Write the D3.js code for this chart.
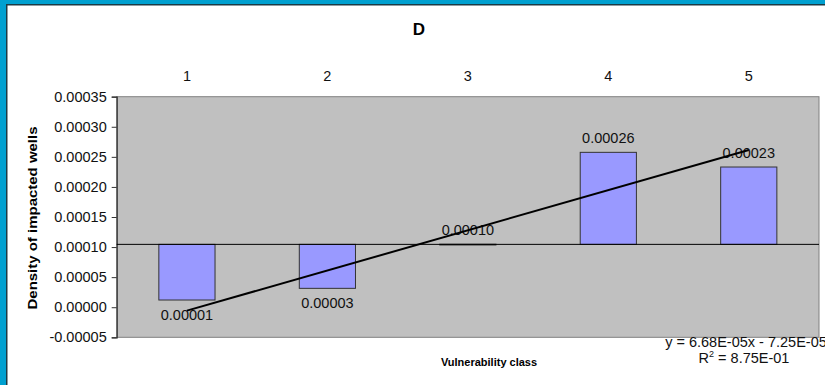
<!DOCTYPE html>
<html><head><meta charset="utf-8">
<script src="https://cdn.jsdelivr.net/npm/d3@7"></script>
<style>html,body{margin:0;padding:0;background:#fff;}svg{display:block;font-family:"Liberation Sans",Arial,sans-serif;}</style>
</head><body>
<svg id="c" width="825" height="385"></svg>
<script>
const categories = ["1", "2", "3", "4", "5"];
const values = [0.0000120, 0.0000314, 0.0001048, 0.0002575, 0.0002331];
const labels = ["0.00001", "0.00003", "0.00010", "0.00026", "0.00023"];
const yTicks = [-0.00005, 0, 0.00005, 0.00010, 0.00015, 0.00020, 0.00025, 0.00030, 0.00035];
const crossing = 0.0001045;
const trendSlope = 6.68e-5;
const trendIntercept = -7.25e-5;
const title = "D";
const xTitle = "Vulnerability class";
const yTitle = "Density of impacted wells";
const eqLine1 = "y = 6.68E-05x - 7.25E-05";

const svg = d3.select("#c");
// frame
svg.append("rect").attr("x",0).attr("y",0).attr("width",825).attr("height",385).attr("fill","#00A0D0");
svg.append("rect").attr("x",6).attr("y",4).attr("width",825).attr("height",385).attr("fill","#1c3a44");
svg.append("rect").attr("x",7.5).attr("y",5.5).attr("width",825).attr("height",385).attr("fill","#ffffff");

const L = 116.7, R = 819, T = 96.7, B = 337.3;
const x = d3.scaleBand().domain(categories).range([L, R]).paddingInner(0.6).paddingOuter(0.3);
const y = d3.scaleLinear().domain([-0.00005, 0.00035]).range([B, T]);

svg.append("rect").attr("x",L).attr("y",T).attr("width",R-L).attr("height",B-T)
  .attr("fill","#C0C0C0").attr("stroke","#808080").attr("stroke-width",1);

// y axis
const fmt = d3.format(".5f");
const yAxis = d3.axisLeft(y).tickValues(yTicks).tickFormat(d => fmt(d).replace("\u2212","-")).tickSize(5).tickPadding(5);
const ga = svg.append("g").attr("transform",`translate(${L},0)`).call(yAxis);
ga.select(".domain").attr("stroke","#333").attr("stroke-width",1.2);
ga.selectAll(".tick line").attr("stroke","#333");
ga.selectAll(".tick text").attr("font-size",14.5).attr("fill","#111")
  .attr("font-family","Liberation Sans, Arial, sans-serif");

// bars
svg.append("g").selectAll("rect").data(values).join("rect")
  .attr("x",(d,i)=>x(categories[i]))
  .attr("width",x.bandwidth())
  .attr("y",d=>Math.min(y(d),y(crossing)))
  .attr("height",d=>Math.max(0.8,Math.abs(y(d)-y(crossing))))
  .attr("fill","#9999FF").attr("stroke","#333").attr("stroke-width",1);

// crossing axis line
svg.append("line").attr("x1",L).attr("x2",R).attr("y1",y(crossing)).attr("y2",y(crossing))
  .attr("stroke","#000").attr("stroke-width",1);

// category labels at top
svg.append("g").selectAll("text").data(categories).join("text")
  .attr("x",d=>x(d)+x.bandwidth()/2).attr("y",81)
  .attr("text-anchor","middle").attr("font-size",14.5).attr("fill","#111").text(d=>d);

// data labels
svg.append("g").selectAll("text").data(values).join("text")
  .attr("x",(d,i)=>x(categories[i])+x.bandwidth()/2)
  .attr("y",d=> d>=crossing ? y(d)-9 : y(d)+20)
  .attr("text-anchor","middle").attr("font-size",14.5).attr("fill","#111")
  .text((d,i)=>labels[i]);

// trendline
const cx = c => x(c)+x.bandwidth()/2;
const tl = [1,5].map(k=>[cx(categories[k-1]), y(trendSlope*k+trendIntercept)]);
svg.append("path").attr("d",d3.line()(tl)).attr("stroke","#000").attr("stroke-width",2).attr("fill","none");

// titles
svg.append("text").attr("x",419).attr("y",35).attr("text-anchor","middle")
  .attr("font-size",17).attr("font-weight","bold").text(title);
svg.append("text").attr("x",489).attr("y",366).attr("text-anchor","middle")
  .attr("font-size",11).attr("font-weight","bold").text(xTitle);
svg.append("text").attr("transform","translate(37,218) rotate(-90)").attr("text-anchor","middle")
  .attr("font-size",13).attr("font-weight","bold").attr("textLength",183).attr("lengthAdjust","spacingAndGlyphs").text(yTitle);

// equation
svg.append("text").attr("x",746).attr("y",347).attr("text-anchor","middle")
  .attr("font-size",14.5).attr("fill","#111").text(eqLine1);
const eq2 = svg.append("text").attr("x",744).attr("y",363).attr("text-anchor","middle")
  .attr("font-size",14.5).attr("fill","#111");
eq2.append("tspan").text("R");
eq2.append("tspan").attr("font-size",9).attr("dy",-6).text("2");
eq2.append("tspan").attr("dy",6).text(" = 8.75E-01");
</script>
</body></html>
